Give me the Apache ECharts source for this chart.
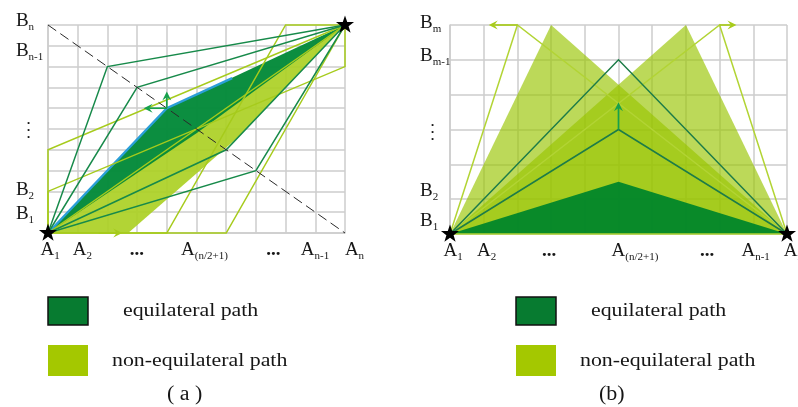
<!DOCTYPE html>
<html>
<head>
<meta charset="utf-8">
<script src="https://cdn.jsdelivr.net/npm/echarts/dist/echarts.min.js"></script>
<style>
  html, body { margin: 0; padding: 0; background: #ffffff; }
  #chart { width: 798px; height: 407px; }
</style>
</head>
<body>
<div id="chart"></div>
<script>
// ---------- panel (a): square lattice, A1 -> An ----------
const aRowNames = ['B', 'B', '⋮', 'B', 'B'];
const aRowSubs  = ['1', '2', '', 'n-1', 'n'];
const aRowAt    = [0.82, 2.01, 4.9, 8.67, 10.11];
const aColNames = ['A', 'A', '...', 'A', '...', 'A', 'A'];
const aColSubs  = ['1', '2', '', '(n/2+1)', '', 'n-1', 'n'];
const aColAt    = [0.07, 1.16, 2.99, 5.27, 7.59, 8.99, 10.32];

const aEqualBand    = [[0, 0], [4, 6], [10, 10], [5, 4.8]];
const aNonEqualBand = [[0, 0], [2.7, 0], [6.4, 4.6], [10, 10]];
const aBandEdge     = [[0, 0], [4, 6], [6.2, 7.45]];
const aEqualPaths = [
  [[0, 0], [2, 8], [10, 10]],
  [[0, 0], [3, 7], [10, 10]],
  [[0, 0], [6, 4], [10, 10]],
  [[0, 0], [7, 3], [10, 10]]
];
const aNonEqualPaths = [
  [[0, 0], [6, 0], [10, 10]],
  [[0, 0], [4, 0], [8, 10], [10, 10]],
  [[0, 0], [0, 4], [10, 10]],
  [[0, 0], [0, 2], [10, 8], [10, 10]],
  [[0, 0], [10, 10]]
];
const aDiagonal = [[0, 10], [10, 0]];
const aEqualArrows    = [[[4, 6], [4, 6.8]], [[4, 6], [3.22, 6]]];
const aNonEqualArrows = [[[1.7, 0], [2.5, 0]]];
const aEnds = [[0, 0], [10, 10]];

// ---------- panel (b): rectangular lattice, A1 -> An ----------
const bRowNames = ['B', 'B', '⋮', 'B', 'B'];
const bRowSubs  = ['1', '2', '', 'm-1', 'm'];
const bRowAt    = [0.32, 1.19, 2.9, 5.06, 6.02];
const bColNames = ['A', 'A', '...', 'A', '...', 'A', 'A'];
const bColSubs  = ['1', '2', '', '(n/2+1)', '', 'n-1', 'n'];
const bColAt    = [0.09, 1.09, 2.94, 5.49, 7.63, 9.07, 10.19];

const bNonEqualAreas = [
  [[0, 0], [3, 6], [10, 0]],
  [[0, 0], [7, 6], [10, 0]]
];
const bEqualArea = [[0, 0], [5, 1.5], [10, 0]];
const bEqualPaths = [
  [[0, 0], [5, 5], [10, 0]],
  [[0, 0], [5, 3], [10, 0]]
];
const bNonEqualPaths = [
  [[0, 0], [2, 6], [10, 0]],
  [[0, 0], [8, 6], [10, 0]],
  [[0, 0], [10, 0]]
];
const bEqualArrows    = [[[5, 3], [5, 3.78]]];
const bNonEqualArrows = [[[2, 6], [1.15, 6]], [[8, 6], [8.5, 6]]];
const bEnds = [[0, 0], [10, 0]];

// ---------- legend ----------
const legendNames = ['equilateral path', 'non-equilateral path'];
const panelNames = ['( a )', '(b)'];

// ---------- styling ----------
const FONT = "'Liberation Serif', 'Times New Roman', serif";
const INK = '#161616';
const GRID = '#cdcdcd';
const DARK_FILL = '#048a3a';
const LIGHT_FILL = '#abd024';
const DARK_LINE = '#178a4a';
const DARK_LINE_B = '#1d7c48';
const LIGHT_LINE = '#a6cb1c';
const ARROW_DARK = '#17a04c';
const EDGE_BLUE = '#2b9fd8';

const rich = {
  b: { fontFamily: FONT, fontSize: 19, fill: INK, lineHeight: 20, padding: [0, 0, 2, 0], verticalAlign: 'bottom' },
  s: { fontFamily: FONT, fontSize: 11, fill: INK, lineHeight: 12, verticalAlign: 'bottom' },
  d: { fontFamily: FONT, fontSize: 19, fontWeight: 'bold', fill: INK, lineHeight: 20, padding: [0, 0, 2, 0], verticalAlign: 'bottom' },
  v: { fontFamily: FONT, fontSize: 9, fill: INK, lineHeight: 7 }
};

function richText(name, sub) {
  if (name === '⋮') return '{v|•\n•\n•}';
  if (name === '...') return '{d|...}';
  return sub ? '{b|' + name + '}{s|' + sub + '}' : '{b|' + name + '}';
}

function custom(gi, items, render, z) {
  return {
    type: 'custom', xAxisIndex: gi, yAxisIndex: gi, z: z, silent: true, clip: false,
    data: items.map((_, i) => [i, 0]),
    renderItem: (params, api) => render(items[params.dataIndex], api, params.dataIndex)
  };
}

const poly = (color, opacity) => (pts, api) => ({
  type: 'polygon',
  shape: { points: pts.map(p => api.coord(p)) },
  style: { fill: color, opacity: opacity }
});

const path = (color, width, dash) => (pts, api) => ({
  type: 'polyline',
  shape: { points: pts.map(p => api.coord(p)) },
  style: { stroke: color, lineWidth: width, fill: null, lineDash: dash || null }
});

const arrow = (color) => (a, api) => {
  const p0 = api.coord(a[0]), p1 = api.coord(a[1]);
  const dx = p1[0] - p0[0], dy = p1[1] - p0[1];
  const len = Math.sqrt(dx * dx + dy * dy) || 1;
  const ux = dx / len, uy = dy / len, nx = -uy, ny = ux;
  const L = 9, W = 4.5;
  const bx = p1[0] - ux * L, by = p1[1] - uy * L;
  const mx = p1[0] - ux * L * 0.62, my = p1[1] - uy * L * 0.62;
  return {
    type: 'group',
    children: [
      { type: 'line', shape: { x1: p0[0], y1: p0[1], x2: mx, y2: my }, style: { stroke: color, lineWidth: 1.7 } },
      { type: 'polygon', shape: { points: [[p1[0], p1[1]], [bx + nx * W, by + ny * W], [mx, my], [bx - nx * W, by - ny * W]] },
        style: { fill: color } }
    ]
  };
};

const star = (p, api) => {
  const c = api.coord(p);
  const pts = [];
  for (let k = 0; k < 10; k++) {
    const ang = (-90 + k * 36) * Math.PI / 180;
    const r = k % 2 ? 3.8 : 9.5;
    pts.push([c[0] + r * Math.cos(ang), c[1] + r * Math.sin(ang)]);
  }
  return { type: 'polygon', shape: { points: pts }, style: { fill: '#000' } };
};

function rowLabels(gi, names, subs, at, xPos) {
  return custom(gi, names, (name, api, i) => {
    const c = api.coord([xPos, at[i]]);
    return {
      type: 'text', x: c[0] + (name === '⋮' ? 11 : 0), y: c[1],
      style: { text: richText(name, subs[i]), rich: rich, align: 'left', verticalAlign: 'middle', fill: INK }
    };
  }, 20);
}

function colLabels(gi, names, subs, at, yPos) {
  return custom(gi, names, (name, api, i) => {
    const c = api.coord([at[i], yPos]);
    return {
      type: 'text', x: c[0], y: c[1],
      style: { text: richText(name, subs[i]), rich: rich, align: 'center', verticalAlign: 'middle', fill: INK }
    };
  }, 20);
}

function axis(gi, max) {
  return {
    gridIndex: gi, type: 'value', min: 0, max: max, interval: 1,
    axisLabel: { show: false }, axisTick: { show: false },
    axisLine: { show: true, lineStyle: { color: GRID, width: 1.5 } },
    splitLine: { show: true, lineStyle: { color: GRID, width: 1.5 } }
  };
}

function legendBlock(x0, textX1, textX2, labelX, title) {
  const txt = (x, y, s, sx) => ({
    type: 'text', x: x, y: y, scaleX: sx, silent: true,
    style: { text: s, fill: INK, font: '19px ' + FONT, verticalAlign: 'middle' }
  });
  return [
    { type: 'rect', silent: true, shape: { x: x0, y: 297, width: 40, height: 28 },
      style: { fill: '#077b30', stroke: '#111', lineWidth: 1.5 } },
    { type: 'rect', silent: true, shape: { x: x0, y: 345, width: 40, height: 31 },
      style: { fill: '#a4c800' } },
    txt(textX1, 311, legendNames[0], 1.15),
    txt(textX2, 361, legendNames[1], 1.15),
    { type: 'text', x: labelX, y: 395, scaleX: 1.1, silent: true,
      style: { text: title, fill: INK, font: '20px ' + FONT, verticalAlign: 'middle' } }
  ];
}

const chart = echarts.init(document.getElementById('chart'), null, { renderer: 'canvas' });
chart.setOption({
  backgroundColor: '#ffffff',
  animation: false,
  grid: [
    { left: 48, top: 25, width: 297, height: 208 },
    { left: 450, top: 25, width: 337, height: 209 }
  ],
  xAxis: [axis(0, 10), axis(1, 10)],
  yAxis: [axis(0, 10), axis(1, 6)],
  graphic: legendBlock(48, 123, 112, 167, panelNames[0]).concat(legendBlock(516, 591, 580, 599, panelNames[1])),
  series: [
    // panel (a)
    custom(0, [aNonEqualBand], poly(LIGHT_FILL, 0.92), 2),
    custom(0, [aEqualBand], poly(DARK_FILL, 0.97), 3),
    custom(0, [aBandEdge], path(EDGE_BLUE, 2.4), 4),
    custom(0, aNonEqualPaths, path(LIGHT_LINE, 1.5), 5),
    custom(0, aEqualPaths, path(DARK_LINE, 1.5), 6),
    custom(0, [aDiagonal], path('#2a2a2a', 1, [10, 5]), 7),
    custom(0, aEqualArrows, arrow(ARROW_DARK), 8),
    custom(0, aNonEqualArrows, arrow(LIGHT_LINE), 8),
    custom(0, aEnds, star, 9),
    rowLabels(0, aRowNames, aRowSubs, aRowAt, -1.08),
    colLabels(0, aColNames, aColSubs, aColAt, -0.91),
    // panel (b)
    custom(1, bNonEqualAreas, poly('#98c400', 0.65), 2),
    custom(1, [bEqualArea], poly('#00862a', 0.95), 3),
    custom(1, bNonEqualPaths, path('#b2d434', 1.5), 5),
    custom(1, bEqualPaths, path(DARK_LINE_B, 1.5), 6),
    custom(1, bEqualArrows, arrow(ARROW_DARK), 8),
    custom(1, bNonEqualArrows, arrow('#a8cc1a'), 8),
    custom(1, bEnds, star, 9),
    rowLabels(1, bRowNames, bRowSubs, bRowAt, -0.89),
    colLabels(1, bColNames, bColSubs, bColAt, -0.54)
  ]
});
</script>
</body>
</html>
